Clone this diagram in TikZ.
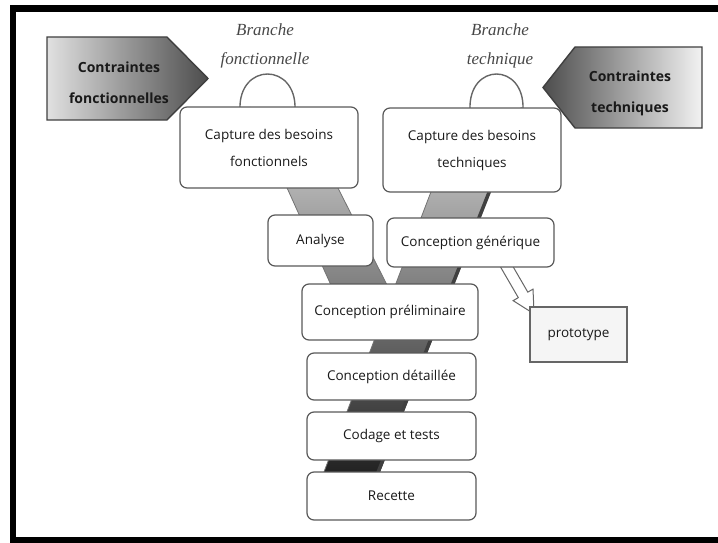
\documentclass[tikz,border=0pt]{standalone}
\usepackage{fontspec}
\setmainfont{Open Sans}
\newfontfamily\brfont{Liberation Serif}
\usetikzlibrary{calc}
\begin{document}
\begin{tikzpicture}[x=1pt,y=-1pt,
  stage/.style={draw=black!65, line width=1.2pt, rounded corners=7pt, fill=white,
    text=black!90, font=\fontsize{13.5}{27}\selectfont, align=center, inner sep=0pt},
  protobox/.style={draw=black!60, line width=1.2pt, fill=black!4, text=black!90,
    font=\fontsize{13.5}{15}\selectfont, inner sep=0pt},
  constr/.style={text=black!90, font=\bfseries\fontsize{14}{31}\selectfont, align=center, inner sep=0pt},
  branch/.style={text=black!72, font=\brfont\itshape\fontsize{17}{29}\selectfont, align=center, inner sep=0pt},
  arch/.style={draw=black!60, line width=1.4pt},
  hollow/.style={draw=black!60, line width=1pt, fill=white}
]
\useasboundingbox (0,0) rectangle (718,543);
\clip (0,0) rectangle (718,543);
% frame
\draw[line width=6.5pt] (13,8.5) rectangle (740,540.5);

% contraintes shapes
\shade[draw=black!75, line width=1.4pt, left color=black!12, right color=black!70]
  (47,37) -- (167,37) -- (208,78.5) -- (167,120) -- (47,120) -- cycle;
\node[constr] (cf) at (119,83) {Contraintes\\fonctionnelles};
\shade[draw=black!75, line width=1.4pt, left color=black!70, right color=black!5]
  (702,47) -- (575,47) -- (543,87.5) -- (575,128) -- (702,128) -- cycle;
\node[constr] (ct) at (630,93) {Contraintes\\techniques};

% branch labels
\node[branch] (bf) at (265,46) {Branche\\fonctionnelle};
\node[branch] (bt) at (500,46) {Branche\\technique};

% arches
\draw[arch] (240,110) .. controls (238,62) and (297,62) .. (295,110);
\draw[arch] (470,110) .. controls (468,62) and (525,62) .. (523,110);

% Y bands
\shade[top color=black!15, middle color=black!40, bottom color=black!88]
  (250.5,107) -- (297,107) -- (394.6,300) -- (337.7,300) -- cycle
  (463,108) -- (524.3,108) -- (376.8,480) -- (320.9,480) -- cycle;
\draw[black!55, line width=0.8pt]
  (250.5,107) -- (337.7,300) (297,107) -- (394.6,300)
  (463,108) -- (320.9,480);
\draw[black!75, line width=3.5pt] (522.5,108) -- (375,480);

% hollow arrow to prototype
\coordinate (arrS) at (504,262);
\begin{scope}[shift={(arrS)}, rotate=-59.9]
  \draw[hollow] (0,-5.5) -- (38,-5.5) -- (38,-11.5) -- (60,0) -- (38,11.5) -- (38,5.5) -- (0,5.5) -- cycle;
\end{scope}

% stage boxes
\node[stage, minimum width=178pt, minimum height=81pt] (cbf) at (269,147.5) {Capture des besoins\\fonctionnels};
\node[stage, minimum width=178pt, minimum height=84pt] (cbt) at (472,150) {Capture des besoins\\techniques};
\node[stage, minimum width=105pt, minimum height=51pt] (ana) at (320.5,240.5) {Analyse};
\node[stage, minimum width=167pt, minimum height=49pt] (cg) at (470.5,242.5) {Conception générique};
\node[stage, minimum width=176pt, minimum height=56pt] (cp) at (390,312) {Conception préliminaire};
\node[stage, minimum width=169pt, minimum height=47pt] (cd) at (391.5,376.5) {Conception détaillée};
\node[stage, minimum width=169pt, minimum height=48pt] (cod) at (391.5,436) {Codage et tests};
\node[stage, minimum width=169pt, minimum height=48pt] (rec) at (391.5,496) {Recette};
\node[protobox, minimum width=97pt, minimum height=55pt] (proto) at (578.5,334.5) {prototype};
\end{tikzpicture}
\end{document}
